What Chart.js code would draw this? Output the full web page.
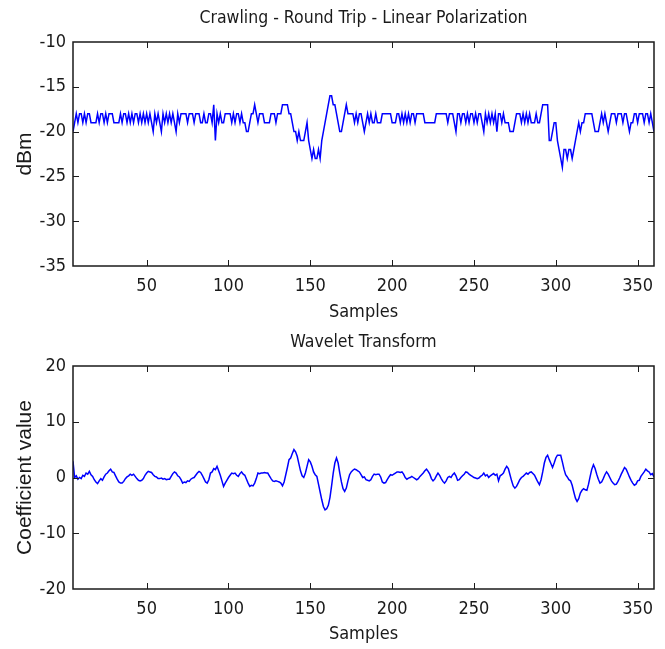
<!DOCTYPE html>
<html>
<head>
<meta charset="utf-8">
<title>Crawling - Round Trip - Linear Polarization</title>
<script src="https://cdn.jsdelivr.net/npm/chart.js@4.4.1/dist/chart.umd.min.js"></script>
<style>
  html, body { margin: 0; padding: 0; background: #fff; }
  #wrap { position: relative; width: 665px; height: 649px; overflow: hidden; }
  canvas { position: absolute; left: 0; display: block; }
  #rss-chart { top: 0; }
  #wavelet-chart { top: 325px; }
</style>
</head>
<body>
<div id="wrap">
  <canvas id="rss-chart" width="665" height="325"></canvas>
  <canvas id="wavelet-chart" width="665" height="324"></canvas>
</div>
<script>
(function () {
  "use strict";

  // sample index of the first reading
  const FIRST_SAMPLE = 5;
  const X_MIN = 5;
  const X_MAX = 360;
  const X_TICKS = [50, 100, 150, 200, 250, 300, 350];
  const RSS_TICKS = [-35, -30, -25, -20, -15, -10];
  const COEF_TICKS = [-20, -10, 0, 10, 20];

  // received power, dBm, samples 5..360
  const rssDbm = [
    -20,-19,-18,-19,-18,-18,-19,-18,-19,-18,
    -18,-19,-19,-19,-19,-18,-19,-18,-18,-19,
    -18,-19,-18,-18,-18,-19,-19,-19,-19,-18,
    -19,-18,-18,-19,-18,-19,-18,-19,-18,-18,
    -19,-18,-19,-18,-19,-18,-19,-18,-19,-20,
    -18,-19,-18,-19,-20,-18,-19,-18,-19,-18,
    -19,-18,-19,-20,-18,-19,-18,-18,-18,-18,
    -19,-18,-18,-18,-19,-18,-18,-18,-19,-19,
    -18,-19,-19,-18,-18,-19,-17,-21,-18,-19,
    -18,-19,-19,-18,-18,-18,-18,-19,-18,-19,
    -18,-18,-19,-18,-19,-19,-20,-20,-19,-18,
    -18,-17,-18,-19,-18,-18,-18,-19,-19,-19,
    -19,-18,-18,-18,-19,-18,-18,-18,-17,-17,
    -17,-17,-18,-18,-19,-20,-20,-21,-20,-21,
    -21,-21,-20,-19,-21,-22,-23,-22,-23,-23,
    -22,-23,-21,-20,-19,-18,-17,-16,-16,-17,
    -17,-18,-19,-20,-20,-19,-18,-17,-18,-18,
    -18,-18,-19,-18,-19,-18,-18,-19,-20,-19,
    -18,-19,-18,-19,-19,-18,-19,-19,-19,-18,
    -18,-18,-18,-18,-18,-19,-19,-19,-18,-18,
    -19,-18,-19,-18,-19,-18,-19,-18,-18,-19,
    -18,-18,-18,-18,-18,-19,-19,-19,-19,-19,
    -19,-19,-18,-18,-18,-18,-18,-18,-18,-19,
    -18,-18,-18,-19,-20,-18,-18,-19,-18,-18,
    -19,-18,-19,-18,-18,-19,-18,-19,-18,-18,
    -19,-20,-18,-19,-18,-19,-18,-19,-18,-20,
    -18,-18,-19,-18,-19,-19,-19,-20,-20,-20,
    -19,-18,-18,-18,-19,-18,-19,-18,-19,-18,
    -19,-19,-19,-18,-19,-19,-18,-17,-17,-17,
    -17,-21,-21,-20,-19,-19,-21,-22,-23,-24,
    -22,-22,-23,-22,-22,-23,-22,-21,-20,-19,
    -20,-19,-19,-18,-18,-18,-18,-18,-19,-20,
    -20,-20,-19,-18,-19,-18,-19,-20,-19,-18,
    -18,-18,-19,-18,-18,-18,-19,-18,-18,-19,
    -20,-19,-19,-18,-18,-19,-18,-18,-18,-19,
    -18,-18,-19,-18,-19,-20
  ];

  // wavelet coefficients, same samples
  const waveletCoef = [
    2.9,0,0.3,-0.3,0,-0.2,0.4,0.2,0.8,0.6,
    1.1,0.5,0.2,-0.4,-0.8,-1.1,-0.6,-0.2,-0.5,0.1,
    0.6,0.8,1.2,1.5,1.0,0.9,0.3,-0.3,-0.8,-1.0,
    -1.0,-0.7,-0.2,0.1,0.3,0.6,0.4,0.6,0.2,-0.2,
    -0.5,-0.6,-0.5,-0.2,0.4,0.8,1.1,1.0,0.9,0.5,
    0.2,0.1,-0.2,-0.2,-0.1,-0.3,-0.2,-0.4,-0.3,-0.3,
    0.2,0.7,1.0,0.8,0.3,0.1,-0.4,-1.0,-0.8,-0.9,
    -0.6,-0.7,-0.3,-0.1,0.0,0.4,0.8,1.1,0.9,0.4,
    -0.2,-0.8,-1.0,-0.4,0.8,1.0,1.6,1.4,2.0,1.2,
    0.4,-0.6,-1.6,-1.0,-0.5,0.0,0.4,0.8,0.7,0.8,
    0.4,0.2,0.7,1.0,0.6,0.4,-0.3,-1.0,-1.6,-1.4,
    -1.5,-1.0,-0.2,0.8,0.7,0.8,0.8,0.9,0.8,0.8,
    0.3,-0.2,-0.6,-0.7,-0.6,-0.7,-0.8,-1.0,-1.5,-0.8,
    0.5,1.8,3.2,3.5,4.3,5.0,4.6,3.8,2.5,1.2,
    0.3,0.0,0.8,2.0,3.2,2.8,2.0,1.0,0.5,0.2,
    -1.2,-2.6,-4.0,-5.2,-5.8,-5.6,-5.0,-3.6,-1.5,0.8,
    2.6,3.5,2.6,0.8,-0.8,-2.0,-2.5,-1.9,-0.6,0.5,
    1.0,1.3,1.5,1.4,1.2,1.0,0.5,0.0,0.1,-0.4,
    -0.5,-0.6,-0.4,0.2,0.6,0.5,0.6,0.6,0.1,-0.8,
    -1.0,-0.9,-0.4,0.1,0.5,0.4,0.6,0.8,1.0,1.0,
    0.9,1.0,0.6,0.0,-0.3,-0.1,0.0,0.2,0.0,-0.2,
    -0.4,-0.2,0.2,0.5,0.8,1.2,1.5,1.1,0.6,-0.2,
    -0.6,-0.3,0.3,0.8,0.4,-0.2,-0.7,-1.0,-0.6,0.0,
    0.2,0.0,0.5,0.8,0.3,-0.5,-0.4,0.0,0.3,0.6,
    1.0,0.9,0.6,0.4,0.2,0.0,-0.1,-0.2,-0.1,0.2,
    0.4,0.8,0.3,0.5,0.0,0.3,0.5,0.7,0.4,0.6,
    -0.6,0.3,0.5,0.8,1.5,2.0,1.6,0.5,-0.6,-1.5,
    -1.9,-1.6,-1.0,-0.4,0.0,0.2,0.5,0.8,0.6,0.9,
    1.0,0.7,0.4,-0.2,-0.8,-1.3,-0.4,1.0,2.6,3.6,
    4.0,3.2,2.5,1.8,2.6,3.5,4.0,4.0,4.0,2.8,
    1.5,0.5,0.1,-0.4,-0.6,-1.4,-2.6,-3.7,-4.3,-3.8,
    -2.8,-2.3,-2.0,-2.2,-2.3,-1.2,0.2,1.5,2.3,1.6,
    0.6,-0.3,-1.0,-0.8,-0.2,0.5,1.0,0.6,0.0,-0.6,
    -1.0,-1.3,-1.2,-0.7,-0.1,0.6,1.2,1.8,1.5,0.8,
    0.1,-0.5,-1.0,-1.4,-1.2,-0.6,-0.5,0.2,0.6,1.0,
    1.5,1.2,1.0,0.5,0.7,0.1
  ];

  const FONT = '"DejaVu Sans Condensed", "Liberation Sans Narrow", sans-serif';
  const LABEL_FONT = '"Liberation Sans", Arial, sans-serif';
  const INK = "#1a1a1a";
  const LINE = "#0000ff";

  Chart.defaults.font.family = FONT;
  Chart.defaults.color = INK;

  function toPoints(values) {
    return values.map((v, i) => ({ x: FIRST_SAMPLE + i, y: v }));
  }

  // frame around the plot area, tick marks pointing inward on all four sides
  const boxTicks = {
    id: "boxTicks",
    afterDatasetsDraw(chart) {
      const { ctx, chartArea: a, scales } = chart;
      const len = 6;
      ctx.save();
      ctx.strokeStyle = INK;
      ctx.lineWidth = 1;
      ctx.beginPath();
      scales.x.ticks.forEach((t) => {
        const px = Math.round(scales.x.getPixelForValue(t.value)) + 0.5;
        ctx.moveTo(px, a.bottom); ctx.lineTo(px, a.bottom - len);
        ctx.moveTo(px, a.top); ctx.lineTo(px, a.top + len);
      });
      scales.y.ticks.forEach((t) => {
        if (t.value === scales.y.min || t.value === scales.y.max) return;
        const py = Math.round(scales.y.getPixelForValue(t.value)) + 0.5;
        ctx.moveTo(a.left, py); ctx.lineTo(a.left + len, py);
        ctx.moveTo(a.right, py); ctx.lineTo(a.right - len, py);
      });
      ctx.stroke();
      ctx.lineWidth = 1.5;
      ctx.strokeRect(a.left, a.top, a.right - a.left, a.bottom - a.top);
      ctx.restore();
    },
  };

  function renderPanel(id, cfg) {
    const ctx = document.getElementById(id);
    return new Chart(ctx, {
      type: "line",
      data: {
        datasets: [{
          data: toPoints(cfg.values),
          borderColor: LINE,
          borderWidth: 1.5,
          pointRadius: 0,
          tension: 0,
          fill: false,
        }],
      },
      options: {
        responsive: false, animation: false, devicePixelRatio: 1,
        layout: { padding: { left: 0, right: 11, top: 0, bottom: 0 } },
        plugins: {
          legend: { display: false },
          tooltip: { enabled: false },
          title: { display: true, text: cfg.title, fullSize: false, color: INK, font: { size: 17.5, weight: "normal" }, padding: cfg.titlePad },
        },
        scales: {
          x: {
            type: "linear", min: X_MIN, max: X_MAX,
            afterBuildTicks: (s) => { s.ticks = X_TICKS.map((v) => ({ value: v })); },
            afterFit: (s) => { s.height = cfg.xHeight; },
            grid: { display: false, drawTicks: false }, border: { display: false },
            ticks: { autoSkip: false, maxRotation: 0, padding: 10, color: INK, font: { size: 18 } },
            title: { display: true, text: "Samples", color: INK, font: { size: 18 }, padding: { top: 0, bottom: cfg.xTitleBottom } },
          },
          y: {
            type: "linear", min: cfg.yMin, max: cfg.yMax,
            afterBuildTicks: (s) => { s.ticks = cfg.yTicks.map((v) => ({ value: v })); },
            afterFit: (s) => { s.width = 73; },
            grid: { display: false, drawTicks: false }, border: { display: false },
            ticks: { padding: 7, color: INK, font: { size: 18 } },
            title: { display: true, text: cfg.yTitle, color: INK, font: { family: LABEL_FONT, size: 21 }, padding: { top: 12.4, bottom: 0 } },
          },
        },
      },
      plugins: [boxTicks],
    });
  }

  renderPanel("rss-chart", {
    title: "Crawling - Round Trip - Linear Polarization",
    titlePad: { top: 7.5, bottom: 13.5 },
    yTitle: "dBm",
    values: rssDbm,
    yMin: -35, yMax: -10, yTicks: RSS_TICKS,
    xHeight: 59, xTitleBottom: 2.2,
  });

  renderPanel("wavelet-chart", {
    title: "Wavelet Transform",
    titlePad: { top: 6.5, bottom: 13.5 },
    yTitle: "Coefficient value",
    values: waveletCoef,
    yMin: -20, yMax: 20, yTicks: COEF_TICKS,
    xHeight: 60, xTitleBottom: 4.2,
  });
})();
</script>
</body>
</html>
